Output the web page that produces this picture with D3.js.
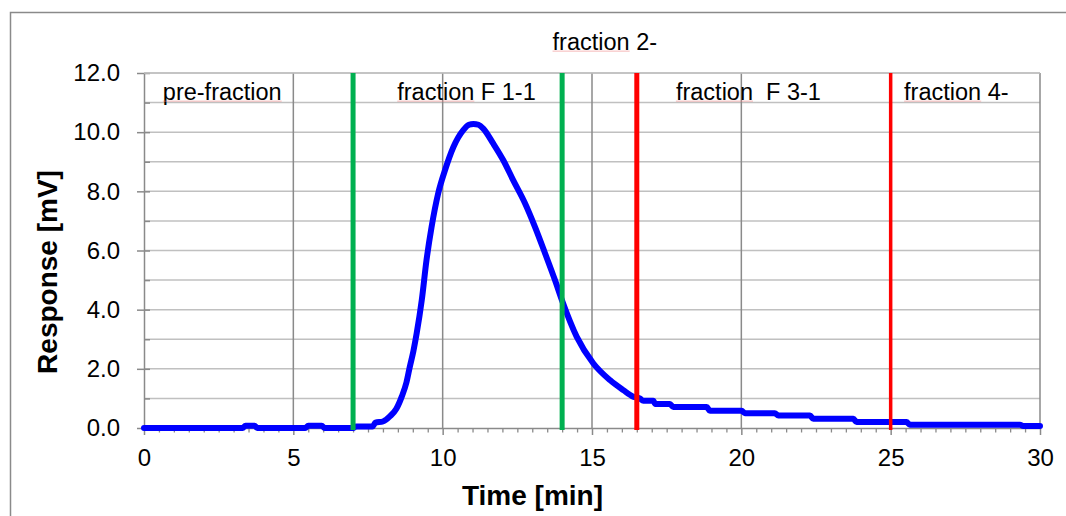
<!DOCTYPE html>
<html>
<head>
<meta charset="utf-8">
<script src="https://cdn.jsdelivr.net/npm/d3@7"></script>
<style>
  html, body { margin: 0; padding: 0; background: #fff; }
  svg { display: block; }
  text { font-family: Arial, "Liberation Sans", sans-serif; fill: #000; }
</style>
</head>
<body>
<svg id="chart" width="1066" height="516"></svg>
<script>
// ---------- DATA ----------
const timeMin = [0, 3.3, 3.4, 3.7, 3.8, 5.4, 5.5, 5.95, 6.05, 7.0, 7.1, 7.65, 7.75, 8.0, 8.24, 8.45, 8.63, 8.79, 8.9, 9.02,
  9.13, 9.3, 9.46, 9.63, 9.85, 10.08, 10.36, 10.69, 10.88, 11.03, 11.2, 11.36, 11.69, 12.03, 12.36, 12.76, 13.09, 13.43, 13.76, 14.0,
  14.49, 15.04, 15.6, 16.05, 16.38, 16.6, 16.72, 17.05, 17.12, 17.61, 17.72, 18.84, 18.95, 20.01, 20.12, 21.12, 21.24, 22.3, 22.41, 23.75,
  23.86, 25.53, 25.64, 29.33, 29.44, 30];
const responseMV = [0, 0, 0.08, 0.08, 0, 0, 0.08, 0.08, 0, 0, 0.05, 0.05, 0.18, 0.22, 0.4, 0.65, 1.06, 1.55, 2.07, 2.6,
  3.2, 4.32, 5.68, 6.8, 7.93, 8.72, 9.5, 10.07, 10.25, 10.28, 10.25, 10.12, 9.62, 9.05, 8.38, 7.59, 6.8, 5.9, 5.0, 4.3,
  3.08, 2.19, 1.62, 1.28, 1.06, 1.0, 0.92, 0.92, 0.81, 0.81, 0.71, 0.71, 0.58, 0.58, 0.5, 0.5, 0.42, 0.42, 0.31, 0.31,
  0.2, 0.2, 0.11, 0.11, 0.07, 0.07];

const cutTimes = [7, 14, 16.5, 25];           // fraction boundaries [min]
const cutKinds = ["green", "green", "red", "redThin"];

const labelTexts = ["pre-fraction", "fraction F 1-1", "fraction 2-", "fraction\u00a0\u00a0F 3-1", "fraction 4-"];
const labelTimes = [0.63, 8.48, 13.68, 17.81, 25.45];   // label start (x, min)
const labelLevels = [11.1, 11.1, 12.79, 11.1, 11.1];    // label baseline (y, mV)
const labelUnderline = [12, 8, 8, 8, 8];                // chars with spell-check underline

const xTicks = [0, 5, 10, 15, 20, 25, 30];
const yTicks = [0, 2, 4, 6, 8, 10, 12];
const xTitle = "Time [min]";
const yTitle = "Response [mV]";

// ---------- STYLES ----------
const cutStyle = {
  green:   { color: "#00b050", width: 5 },
  red:     { color: "#ff0000", width: 5 },
  redThin: { color: "#ff0000", width: 3.5 }
};

// ---------- LAYOUT ----------
const svg = d3.select("#chart");
const m = { left: 144, top: 73, right: 1040, bottom: 428 };
const x = d3.scaleLinear().domain([0, 30]).range([m.left, m.right]);
const y = d3.scaleLinear().domain([0, 12]).range([m.bottom, m.top]);

// outer chart border
svg.append("rect").attr("x", 10.5).attr("y", 12.5).attr("width", 1200).attr("height", 700)
  .attr("fill", "none").attr("stroke", "#8a8a8a").attr("stroke-width", 1.5);

// horizontal gridlines every 1 mV
svg.append("g").selectAll("line").data(d3.range(1, 13)).join("line")
  .attr("x1", m.left).attr("x2", m.right)
  .attr("y1", d => y(d)).attr("y2", d => y(d))
  .attr("stroke", "#c0c0c0").attr("stroke-width", 1.5);

// vertical gridlines every 5 min
svg.append("g").selectAll("line").data(xTicks.slice(1)).join("line")
  .attr("x1", d => x(d)).attr("x2", d => x(d))
  .attr("y1", m.top).attr("y2", m.bottom)
  .attr("stroke", "#8a8a8a").attr("stroke-width", 1.5);

// x axis (major ticks outward, labels)
const xAxis = d3.axisBottom(x).tickValues(xTicks).tickFormat(d3.format("d")).tickSizeInner(7).tickSizeOuter(0).tickPadding(14);
const gx = svg.append("g").attr("transform", `translate(0,${m.bottom})`).call(xAxis);
gx.select(".domain").attr("stroke", "#8a8a8a").attr("stroke-width", 1.5);
gx.selectAll(".tick line").attr("stroke", "#8a8a8a").attr("stroke-width", 1.5);
gx.selectAll(".tick text").attr("font-size", 24).attr("font-family", "Arial, 'Liberation Sans', sans-serif").attr("fill", "#000");
// x minor ticks every 0.5
const xMinor = d3.axisBottom(x).tickValues(d3.range(0.5, 30, 0.5).filter(v => v % 5 !== 0)).tickFormat("").tickSizeInner(4.5).tickSizeOuter(0);
const gxm = svg.append("g").attr("transform", `translate(0,${m.bottom})`).call(xMinor);
gxm.select(".domain").remove();
gxm.selectAll(".tick line").attr("stroke", "#8a8a8a").attr("stroke-width", 1.3);

// y axis
const yAxis = d3.axisLeft(y).tickValues(yTicks).tickFormat(d3.format(".1f")).tickSizeInner(7).tickSizeOuter(0).tickPadding(17);
const gy = svg.append("g").attr("transform", `translate(${m.left},0)`).call(yAxis);
gy.select(".domain").attr("stroke", "#8a8a8a").attr("stroke-width", 1.5);
gy.selectAll(".tick line").attr("stroke", "#8a8a8a").attr("stroke-width", 1.5);
gy.selectAll(".tick text").attr("font-size", 24).attr("font-family", "Arial, 'Liberation Sans', sans-serif").attr("fill", "#000");
// inner tick marks every 1
const yInner = d3.axisRight(y).tickValues(d3.range(0, 13)).tickFormat("").tickSizeInner(6).tickSizeOuter(0);
const gyi = svg.append("g").attr("transform", `translate(${m.left},0)`).call(yInner);
gyi.select(".domain").remove();
gyi.selectAll(".tick line").attr("stroke", "#8a8a8a").attr("stroke-width", 1.5);

// plot frame top
svg.append("line").attr("x1", m.left).attr("x2", m.right).attr("y1", m.top).attr("y2", m.top)
  .attr("stroke", "#c0c0c0").attr("stroke-width", 1.5);

// response curve
const pts = timeMin.map((t, i) => [t, responseMV[i]]);
const line = d3.line().x(d => x(d[0])).y(d => y(d[1])).curve(d3.curveMonotoneX);
svg.append("path").attr("d", line(pts)).attr("fill", "none")
  .attr("stroke", "#0000ff").attr("stroke-width", 6)
  .attr("stroke-linejoin", "round").attr("stroke-linecap", "round");

// fraction cut lines
svg.append("g").selectAll("line").data(cutTimes).join("line")
  .attr("x1", d => x(d)).attr("x2", d => x(d))
  .attr("y1", y(12)).attr("y2", y(0) + 2)
  .attr("stroke", (d, i) => cutStyle[cutKinds[i]].color)
  .attr("stroke-width", (d, i) => cutStyle[cutKinds[i]].width);

// fraction labels
const labels = svg.append("g").selectAll("text").data(labelTexts).join("text")
  .attr("x", (d, i) => x(labelTimes[i]))
  .attr("y", (d, i) => y(labelLevels[i]))
  .attr("font-size", 23.5)
  .attr("xml:space", "preserve")
  .text(d => d);
labels.each(function (d, i) {
  const w = this.getSubStringLength(0, labelUnderline[i]);
  svg.append("line")
    .attr("x1", x(labelTimes[i])).attr("x2", x(labelTimes[i]) + w)
    .attr("y1", y(labelLevels[i]) + 1.5).attr("y2", y(labelLevels[i]) + 1.5)
    .attr("stroke", "#f08080").attr("stroke-width", 1).attr("opacity", 0.55);
});

// axis titles
svg.append("text").attr("x", 532.5).attr("y", 505).attr("text-anchor", "middle")
  .attr("font-size", 28).attr("font-weight", "bold").text(xTitle);
svg.append("text").attr("transform", "translate(57,272) rotate(-90)").attr("text-anchor", "middle")
  .attr("font-size", 28).attr("font-weight", "bold").text(yTitle);
</script>
</body>
</html>
